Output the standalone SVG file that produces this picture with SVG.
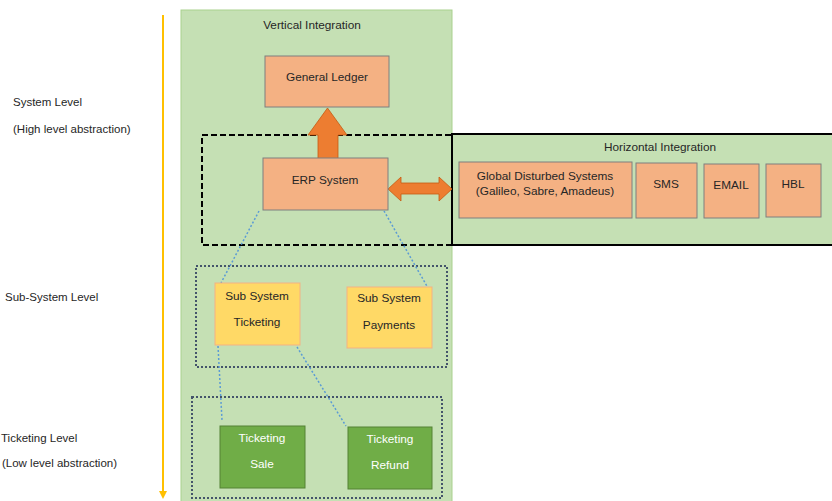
<svg xmlns="http://www.w3.org/2000/svg" width="832" height="501" viewBox="0 0 832 501">
<style>
text{font-family:"Liberation Sans",Arial,sans-serif;font-size:11.8px;fill:#262626;text-anchor:middle}
.lbl{text-anchor:start;font-size:11.5px}
.org{fill:#f4b183;stroke:#7f7f7f;stroke-width:1}
.sub{fill:#ffd966;stroke:#f4b183;stroke-width:1}
.grn{fill:#70ad47;stroke:#548235;stroke-width:1}
.wt{fill:#ffffff}
.dotbox{fill:none;stroke:#44546a;stroke-width:2;stroke-dasharray:2 2}
.dotline{fill:none;stroke:#5b9bd5;stroke-width:1.5;stroke-dasharray:2 2}
.bigarrow{fill:#ed7d31;stroke:#c55a11;stroke-width:0.8}
</style>
<rect width="832" height="501" fill="#ffffff"/>
<g id="axis">
<line x1="163" y1="15" x2="163" y2="492" stroke="#ffc000" stroke-width="2"/>
<polygon points="159,491 167,491 163,499" fill="#ffc000"/>
</g>
<g id="labels">
<text class="lbl" x="13" y="106">System Level</text>
<text class="lbl" x="13" y="133">(High level abstraction)</text>
<text class="lbl" x="5" y="301">Sub-System Level</text>
<text class="lbl" x="1" y="442">Ticketing Level</text>
<text class="lbl" x="2" y="467">(Low level abstraction)</text>
</g>
<g id="vertical">
<rect x="181" y="10" width="271" height="495" fill="#c5e0b4" stroke="#a9d18e" stroke-width="1"/>
<text x="312" y="29">Vertical Integration</text>
</g>
<g id="horizontal">
<rect x="452" y="134" width="382" height="111" fill="#c5e0b4" stroke="#000000" stroke-width="2"/>
<text x="660" y="151">Horizontal Integration</text>
</g>
<g id="system-boundary">
<rect x="202" y="135" width="250" height="110" fill="none" stroke="#000000" stroke-width="2" stroke-dasharray="6 3"/>
</g>
<g id="subsystem-boundary"><rect x="196" y="266" width="251" height="101" class="dotbox"/></g>
<g id="ticketing-boundary"><rect x="192" y="397" width="250" height="101" class="dotbox"/></g>
<g id="connectors">
<polygon class="bigarrow" points="318,159 318,135 308,135 327.5,108 347,135 338,135 338,159"/>
<polygon class="bigarrow" points="388,189 401,177 401,183 439,183 439,177 452,189 439,201 439,194 401,194 401,201"/>
<line class="dotline" x1="259" y1="211" x2="221" y2="283"/>
<line class="dotline" x1="384" y1="211" x2="428" y2="288"/>
<line class="dotline" x1="218" y1="346" x2="222" y2="420"/>
<line class="dotline" x1="297" y1="347" x2="346" y2="426"/>
</g>
<g id="general-ledger"><rect class="org" x="265" y="56" width="124" height="51"/><text x="327" y="81">General Ledger</text></g>
<g id="erp"><rect class="org" x="263" y="158" width="125" height="52"/><text x="325" y="184">ERP System</text></g>
<g id="gds"><rect class="org" x="459" y="162" width="173" height="56"/><text x="545" y="180">Global Disturbed Systems</text><text x="545" y="195">(Galileo, Sabre, Amadeus)</text></g>
<g id="sms"><rect class="org" x="636" y="163" width="61" height="55"/><text x="666" y="188">SMS</text></g>
<g id="email"><rect class="org" x="704" y="164" width="55" height="54"/><text x="731" y="189">EMAIL</text></g>
<g id="hbl"><rect class="org" x="766" y="164" width="55" height="53"/><text x="793" y="188">HBL</text></g>
<g id="sub-ticketing"><rect class="sub" x="215" y="283" width="85" height="62"/><text x="257" y="300">Sub System</text><text x="257" y="326">Ticketing</text></g>
<g id="sub-payments"><rect class="sub" x="347" y="287" width="85" height="61"/><text x="389" y="302">Sub System</text><text x="389" y="329">Payments</text></g>
<g id="ticketing-sale"><rect class="grn" x="220" y="426" width="85" height="62"/><text class="wt" x="262" y="442">Ticketing</text><text class="wt" x="262" y="468">Sale</text></g>
<g id="ticketing-refund"><rect class="grn" x="348" y="427" width="84" height="62"/><text class="wt" x="390" y="443">Ticketing</text><text class="wt" x="390" y="469">Refund</text></g>
</svg>
